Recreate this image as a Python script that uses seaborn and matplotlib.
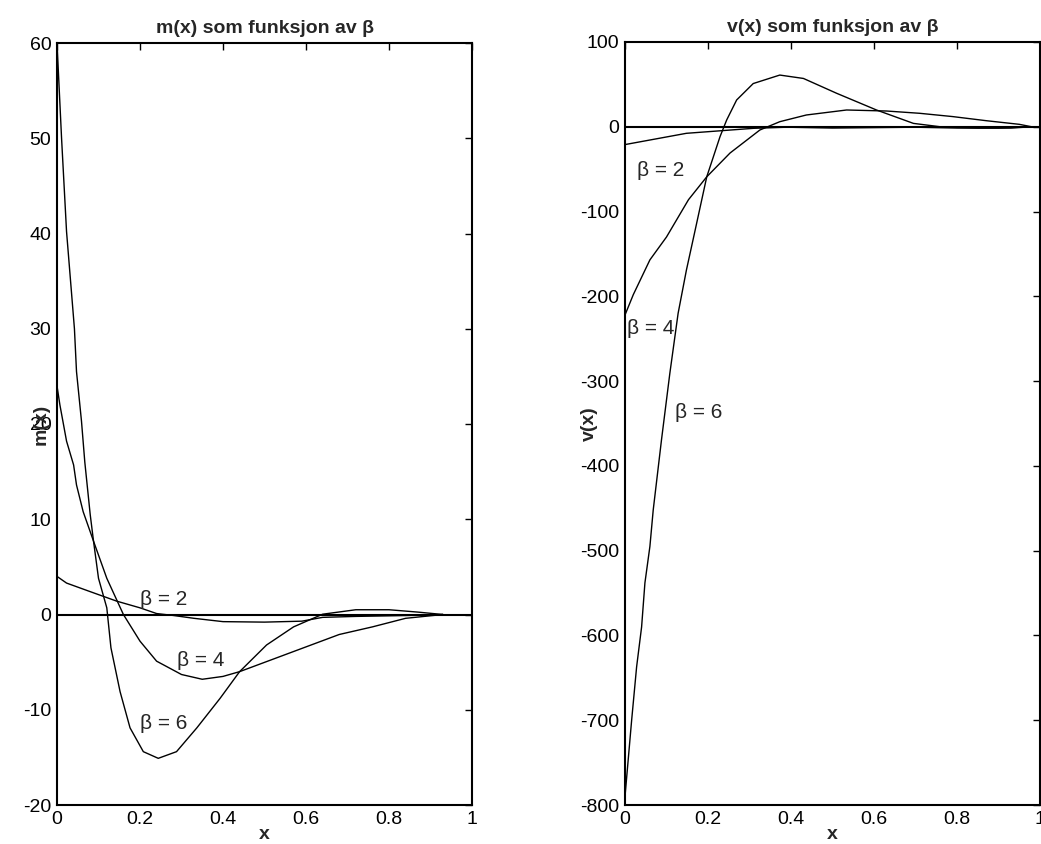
import matplotlib
matplotlib.use("Agg")
import matplotlib.pyplot as plt
import seaborn as sns

# m(x) curves (left panel)
m_x_b2 = [0, 0.023, 0.08, 0.144, 0.2, 0.24, 0.28, 0.33, 0.40, 0.50, 0.59, 0.64, 0.72, 0.85, 0.93]
m_y_b2 = [4.0, 3.3, 2.4, 1.4, 0.7, 0.1, -0.1, -0.4, -0.75, -0.8, -0.7, -0.3, -0.2, -0.1, 0]

m_x_b4 = [0, 0.007, 0.023, 0.04, 0.047, 0.063, 0.088, 0.12, 0.16, 0.2, 0.24, 0.30, 0.35,
          0.40, 0.44, 0.52, 0.60, 0.68, 0.76, 0.84, 0.93]
m_y_b4 = [24, 22, 18.2, 15.7, 13.6, 10.8, 7.7, 3.8, 0, -2.8, -4.9, -6.3, -6.8,
          -6.5, -6.0, -4.7, -3.4, -2.1, -1.3, -0.4, 0]

m_x_b6 = [0, 0.011, 0.023, 0.042, 0.047, 0.059, 0.067, 0.08, 0.088, 0.1, 0.12, 0.13, 0.152,
          0.176, 0.208, 0.244, 0.288, 0.337, 0.393, 0.44, 0.505, 0.57, 0.64, 0.72, 0.80, 0.87, 0.93]
m_y_b6 = [60, 50, 40.2, 30, 25.5, 20.3, 16, 10.5, 7.7, 3.8, 0.7, -3.5, -8.1,
          -11.9, -14.4, -15.1, -14.4, -11.9, -8.8, -6.0, -3.2, -1.3, 0.03, 0.5, 0.5, 0.25, 0]

# v(x) curves (right panel)
v_x_b2 = [0, 0.148, 0.31, 0.39, 0.5, 0.6, 0.7, 0.8, 0.9, 0.98]
v_y_b2 = [-21, -7.7, -1.8, -0.5, -1.5, -1, -0.5, -1.5, -1.5, 0]

v_x_b4 = [0, 0.02, 0.06, 0.1, 0.153, 0.197, 0.253, 0.325, 0.373, 0.437, 0.534, 0.63,
          0.71, 0.79, 0.87, 0.95, 0.98]
v_y_b4 = [-222, -198, -157, -130, -86, -59, -31, -3.8, 6, 13.9, 19.8, 18.6,
          15.9, 12, 7.2, 2.9, 0]

v_x_b6 = [0, 0.016, 0.028, 0.04, 0.048, 0.06, 0.068, 0.088, 0.108, 0.128, 0.148, 0.169,
          0.185, 0.197, 0.229, 0.245, 0.269, 0.309, 0.373, 0.43, 0.51, 0.606, 0.695,
          0.76, 0.85, 0.93, 0.98]
v_y_b6 = [-790, -700, -637, -590, -538, -495, -452, -369, -291, -220, -169, -122,
          -86, -59, -11.6, 8, 31.6, 51, 61, 57, 39.5, 19.8, 4,
          0, -1.5, -1.5, 0]

xticks = [0, 0.2, 0.4, 0.6, 0.8, 1]
xtick_labels = ["0", "0.2", "0.4", "0.6", "0.8", "1"]

sns.set_style("white")
plt.rcParams["font.family"] = ["Liberation Sans", "DejaVu Sans"]
plt.rcParams["axes.unicode_minus"] = False

fig = plt.figure(figsize=(10.41, 8.44), dpi=100)
ax1 = fig.add_axes([57/1041, 1-805/844, 415/1041, 762/844])
ax2 = fig.add_axes([625/1041, 1-805/844, 415/1041, 763/844])

# left panel
for xs, ys in [(m_x_b2, m_y_b2), (m_x_b4, m_y_b4), (m_x_b6, m_y_b6)]:
    sns.lineplot(x=xs, y=ys, ax=ax1, color="black", linewidth=1.0, sort=False, estimator=None)
ax1.axhline(0, color="black", linewidth=1.5)
ax1.set_xlim(0, 1)
ax1.set_ylim(-20, 60)
ax1.set_xticks(xticks)
ax1.set_xticklabels(xtick_labels)
ax1.set_yticks(range(-20, 61, 10))
ax1.set_title("m(x) som funksjon av β", fontsize=14, fontweight="bold", pad=7)
ax1.set_xlabel("x", fontsize=14, fontweight="bold")
ax1.set_ylabel("m(x)", fontsize=14, fontweight="bold")
ax1.yaxis.set_label_coords(-0.018, 0.5)
ax1.xaxis.set_label_coords(0.5, -0.028)
ax1.text(0.2, 1.0, "β = 2", fontsize=15)
ax1.text(0.29, -5.4, "β = 4", fontsize=15)
ax1.text(0.2, -12.0, "β = 6", fontsize=15)

# right panel
for xs, ys in [(v_x_b2, v_y_b2), (v_x_b4, v_y_b4), (v_x_b6, v_y_b6)]:
    sns.lineplot(x=xs, y=ys, ax=ax2, color="black", linewidth=1.0, sort=False, estimator=None)
ax2.axhline(0, color="black", linewidth=1.5)
ax2.set_xlim(0, 1)
ax2.set_ylim(-800, 100)
ax2.set_xticks(xticks)
ax2.set_xticklabels(xtick_labels)
ax2.set_yticks(range(-800, 101, 100))
ax2.set_title("v(x) som funksjon av β", fontsize=14, fontweight="bold", pad=7)
ax2.set_xlabel("x", fontsize=14, fontweight="bold")
ax2.set_ylabel("v(x)", fontsize=14, fontweight="bold")
ax2.yaxis.set_label_coords(-0.065, 0.5)
ax2.xaxis.set_label_coords(0.5, -0.028)
ax2.text(0.03, -58, "β = 2", fontsize=15)
ax2.text(0.005, -245, "β = 4", fontsize=15)
ax2.text(0.12, -343, "β = 6", fontsize=15)

for ax in (ax1, ax2):
    ax.tick_params(direction="in", length=5, width=1, top=True, right=True,
                   labelsize=14, colors="black", pad=4)
    for s in ax.spines.values():
        s.set_visible(True)
        s.set_color("black")
        s.set_linewidth(1.5)

fig.savefig("out.png", dpi=100, facecolor="white")
